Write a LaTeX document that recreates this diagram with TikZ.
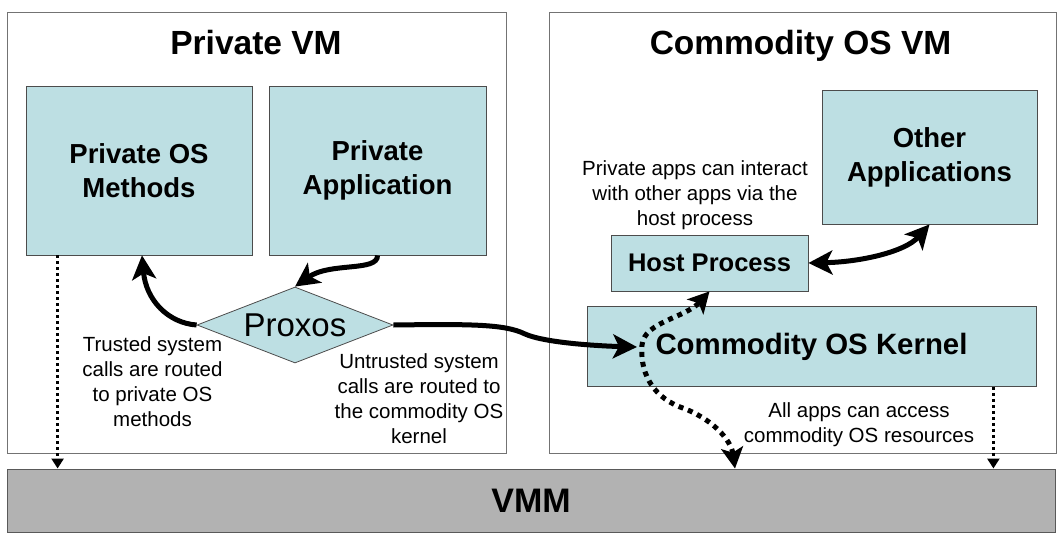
\documentclass[tikz,border=0pt]{standalone}
\usepackage{fontspec}
\setmainfont{Liberation Sans}
\usepackage{xcolor}
\usepackage{tikz}
\usetikzlibrary{arrows.meta,shapes.geometric,calc}
\definecolor{boxblue}{HTML}{BDDFE3}
\definecolor{vmmgray}{HTML}{B2B2B2}
\newcommand{\fsz}[2]{\fontsize{#1}{#2}\selectfont}

\begin{document}
\begin{tikzpicture}[x=1pt,y=-1pt,
  vm/.style={draw=black!55,line width=0.8pt},
  part/.style={draw=black!70,line width=0.8pt,fill=boxblue,align=center,font=\fsz{27.5}{34}\bfseries},
  note/.style={align=center,font=\fsz{20.5}{25}},
  flow/.style={line width=5pt},
  bighead/.tip={Stealth[length=24pt,width=24pt,inset=6pt]},
  dothead/.tip={Stealth[length=21pt,width=22pt,inset=5pt]},
  dots/.style={line width=3pt,dash pattern=on 3pt off 3pt,-{Triangle[length=10pt,width=12pt]}},
  bigdots/.style={line width=5pt,dash pattern=on 5pt off 5pt,dothead-dothead}]
  \useasboundingbox (0,0) rectangle (1064,540);

  % the two virtual machines and the monitor
  \node[vm,minimum width=499pt,minimum height=441pt] (pvm) at (256.5,232.5) {};
  \node[vm,minimum width=507pt,minimum height=441pt] (cvm) at (802.5,232.5) {};
  \node[font=\fsz{33.5}{40}\bfseries,anchor=base] (pvmtitle) at (256,55) {Private VM};
  \node[font=\fsz{33.5}{40}\bfseries,anchor=base] (cvmtitle) at (800.5,55) {Commodity OS VM};
  \node[draw=black!65,line width=1pt,fill=vmmgray,minimum width=1048pt,minimum height=63pt,
        font=\fsz{34}{40}\bfseries] (vmm) at (531,500.5) {VMM};

  % parts
  \node[part,minimum width=226pt,minimum height=169pt] (privos) at (139,170.5) {Private OS\\Methods};
  \node[part,minimum width=217pt,minimum height=169pt] (privapp) at (377.5,170.5) {Private\\Application};
  \node[part,minimum width=215pt,minimum height=134pt] (other) at (929.5,157) {Other\\Applications};
  \node[part,minimum width=197pt,minimum height=56pt,font=\fsz{25.5}{30}\bfseries] (host) at (709.5,263) {Host Process};
  \node[part,minimum width=449pt,minimum height=80pt,font=\fsz{29.4}{34}\bfseries] (kernel) at (811.5,346.5) {Commodity OS Kernel};
  \node[diamond,draw=black!70,line width=0.8pt,fill=boxblue,aspect=2.58,minimum width=196pt,
        minimum height=76pt,inner sep=0pt,font=\fsz{33}{38}] (proxos) at (295,325) {Proxos};

  % notes
  \node[note] (hostnote) at (695,194.7) {Private apps can interact\\with other apps via the\\host process};
  \node[note] (trustnote) at (152.5,382) {Trusted system\\calls are routed\\to private OS\\methods};
  \node[note] (untrustnote) at (419,398.5) {Untrusted system\\calls are routed to\\the commodity OS\\kernel};
  \node[note] (accessnote) at (859,425) {All apps can access\\commodity OS resources};

  \coordinate (kin) at (637,347);

  % calls
  \draw[flow,-bighead] (privapp.south) .. controls (378,272) and (330,262) .. (proxos.north);
  \draw[flow,-bighead] (proxos.west) .. controls (168,323) and (146,300) .. ([xshift=3pt]privos.south);
  \draw[flow,-bighead] (proxos.east) .. controls (470,324) and (505,324) .. (525,334)
    .. controls (545,343) and (600,346) .. (kin);
  \draw[flow,bighead-bighead] (host.east) .. controls (860,262) and (905,252) .. (other.south);
  \draw[dots] ([xshift=32pt]privos.south west) -- ([xshift=32pt]privos.south west |- vmm.north);
  \draw[dots] ([xshift=-43pt]kernel.south east) -- ([xshift=-43pt]kernel.south east |- vmm.north);
  \draw[bigdots] ([xshift=204pt]vmm.north) .. controls (731,440) and (712,418) .. (680,407)
    .. controls (650,395) and (640,370) .. (642,345) .. controls (644,322) and (685,318) .. (host.south);
\end{tikzpicture}
\end{document}
